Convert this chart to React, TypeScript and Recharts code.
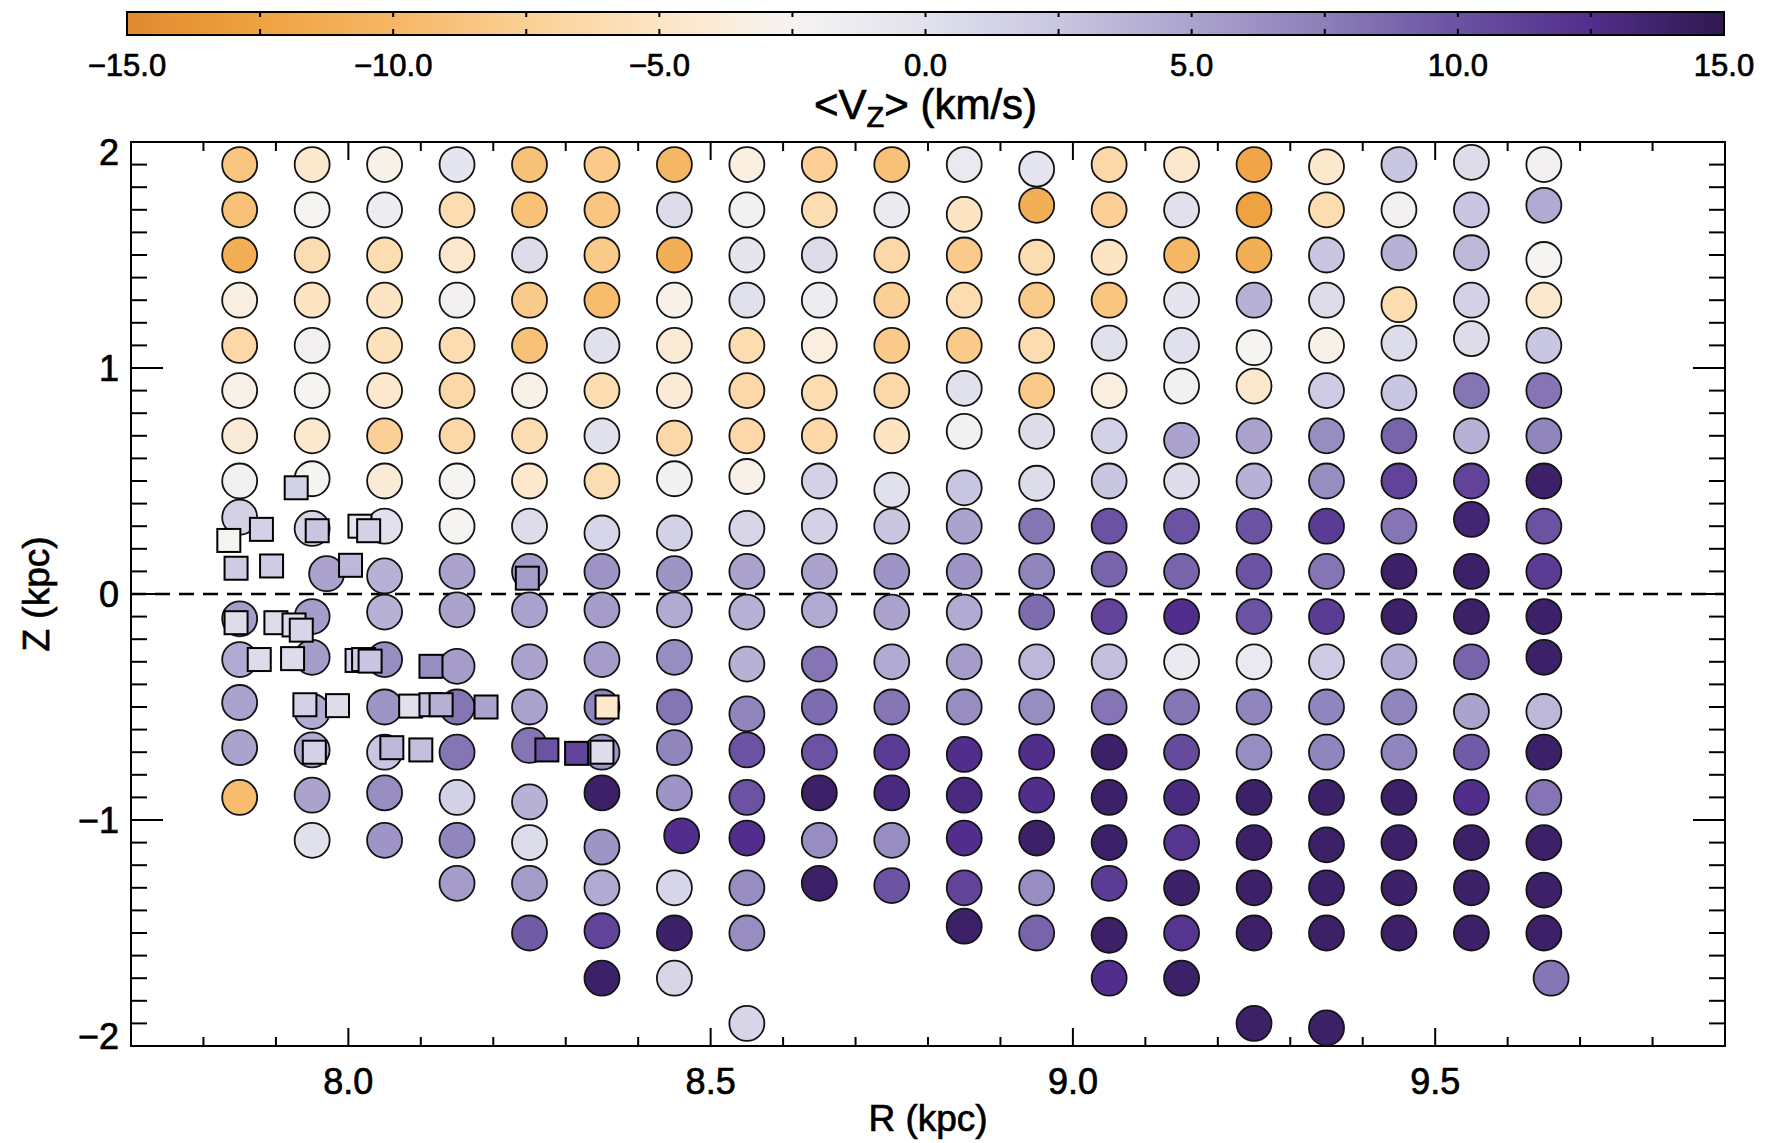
import React from "react";
import {
  ScatterChart,
  Scatter,
  ComposedChart,
  XAxis,
  YAxis,
  ReferenceLine,
  ReferenceArea,
  Label,
} from "recharts";

// colour scale for <Vz>
const colorStops: [number, string][] = [
  [-15, "#e0892e"],
  [-12.5, "#efa241"],
  [-10, "#f6b764"],
  [-7.5, "#fbcf95"],
  [-5, "#fde5c4"],
  [-2.5, "#f6f4f1"],
  [0, "#e1e1ee"],
  [2.5, "#c9c6e1"],
  [5, "#aba3ce"],
  [7.5, "#8b7eb9"],
  [10, "#6b52a2"],
  [12.5, "#512e8b"],
  [15, "#2f1850"],
];

const hexRgb = (h: string) => [
  parseInt(h.slice(1, 3), 16),
  parseInt(h.slice(3, 5), 16),
  parseInt(h.slice(5, 7), 16),
];

function vzColor(v: number) {
  const c = Math.max(-15, Math.min(15, v));
  for (let i = 0; i < colorStops.length - 1; i++) {
    const [v0, h0] = colorStops[i];
    const [v1, h1] = colorStops[i + 1];
    if (c >= v0 && c <= v1) {
      const t = (c - v0) / (v1 - v0);
      const a = hexRgb(h0);
      const b = hexRgb(h1);
      const m = a.map((x, k) => Math.round(x + (b[k] - x) * t));
      return `rgb(${m[0]},${m[1]},${m[2]})`;
    }
  }
  return colorStops[colorStops.length - 1][1];
}

// R of each column of bins (kpc)
const R_COLUMNS = [
  7.85, 7.95, 8.05, 8.15, 8.25, 8.35, 8.45, 8.55, 8.65, 8.75, 8.85, 8.95, 9.05,
  9.15, 9.25, 9.35, 9.45, 9.55, 9.65,
];

// each bin: [Z (kpc), <Vz> (km/s), optional R]
const col785 = [[1.9, -8.5], [1.7, -9], [1.5, -11], [1.3, -3.5], [1.1, -6.5], [0.9, -3], [0.7, -4], [0.5, -2], [0.34, 1.5], [-0.11, 5.5], [-0.29, 4.5], [-0.48, 5], [-0.68, 5], [-0.9, -9.5]];
const col795 = [[1.9, -4.5], [1.7, -2.5], [1.5, -6], [1.3, -5], [1.1, -2], [0.9, -2.5], [0.7, -4.5], [0.51, -2.5], [0.29, 1], [0.09, 5, 7.97], [-0.1, 5.5], [-0.28, 5.5], [-0.52, 4.5], [-0.69, 4.5], [-0.89, 5], [-1.09, 0]];
const col805 = [[1.9, -3], [1.7, -1.5], [1.5, -6], [1.3, -5], [1.1, -5.5], [0.9, -4.5], [0.7, -7.5], [0.5, -4], [0.3, 0], [0.08, 4], [-0.08, 4], [-0.29, 6.5], [-0.5, 6], [-0.7, 2.5], [-0.88, 6.5], [-1.09, 6]];
const col815 = [[1.9, -0.5], [1.7, -6], [1.5, -4.5], [1.3, -2], [1.1, -6], [0.9, -6.5], [0.7, -6.5], [0.5, -2.5], [0.3, -2.5], [0.1, 5], [-0.07, 5], [-0.32, 5.5], [-0.5, 8], [-0.7, 8], [-0.9, 1.5], [-1.09, 7], [-1.28, 5.5]];
const col825 = [[1.9, -9], [1.7, -9], [1.5, 0.5], [1.3, -8], [1.1, -9], [0.9, -3], [0.7, -6], [0.5, -4.5], [0.3, 0.5], [0.1, 5.5], [-0.07, 5], [-0.3, 5], [-0.5, 5], [-0.67, 8], [-0.92, 4], [-1.1, 0.5], [-1.28, 5.5], [-1.5, 9.5]];
const col835 = [[1.9, -8], [1.7, -8.5], [1.5, -8], [1.3, -9.5], [1.1, 0], [0.9, -6], [0.7, 0], [0.5, -6], [0.27, 1], [0.1, 6], [-0.07, 5.5], [-0.29, 5.5], [-0.5, 7], [-0.7, 6], [-0.88, 14], [-1.12, 6], [-1.3, 4.5], [-1.49, 11], [-1.7, 14]];
const col845 = [[1.9, -10], [1.7, 0.5], [1.5, -11], [1.3, -3], [1.1, -4], [0.9, -4], [0.69, -6.5], [0.51, -2], [0.27, 1.5], [0.09, 6], [-0.07, 4.5], [-0.28, 6.5], [-0.5, 8], [-0.68, 7], [-0.88, 6], [-1.07, 12.5, 8.46], [-1.3, 1], [-1.5, 14], [-1.7, 1]];
const col855 = [[1.9, -3.5], [1.7, -2], [1.5, -0.5], [1.3, 0], [1.1, -6], [0.9, -6.5], [0.7, -6.5], [0.52, -3], [0.29, 1], [0.1, 5], [-0.08, 4], [-0.31, 4], [-0.53, 7], [-0.69, 10], [-0.9, 10], [-1.08, 12.5], [-1.3, 6.5], [-1.5, 6.5], [-1.9, 1]];
const col865 = [[1.9, -7.5], [1.7, -6], [1.5, 0.5], [1.3, -1.5], [1.1, -3.5], [0.89, -6], [0.7, -6.5], [0.5, 1.5], [0.3, 1.5], [0.1, 5], [-0.07, 4.5], [-0.31, 8], [-0.5, 8.5], [-0.7, 10], [-0.88, 14], [-1.09, 6.5], [-1.28, 14]];
const col875 = [[1.9, -9], [1.7, -1], [1.5, -6.5], [1.3, -7.5], [1.1, -8], [0.9, -6.5], [0.7, -5], [0.46, 0], [0.3, 2.5], [0.1, 6], [-0.08, 5], [-0.3, 4.5], [-0.5, 8], [-0.7, 11.5], [-0.88, 13], [-1.09, 6.5], [-1.29, 10]];
const col885 = [[1.9, -1], [1.68, -5], [1.5, -8], [1.3, -6], [1.1, -8], [0.91, 0], [0.72, -2], [0.47, 2.5], [0.3, 5], [0.1, 6], [-0.08, 4.5], [-0.3, 5.5], [-0.5, 6.5], [-0.71, 12.5], [-0.89, 13], [-1.08, 12.5], [-1.3, 11], [-1.47, 14]];
const col895 = [[1.88, -0.5], [1.72, -11], [1.49, -6], [1.3, -8], [1.1, -6], [0.9, -8], [0.72, 0.5], [0.49, 0.5], [0.3, 8], [0.1, 7], [-0.08, 8.5], [-0.3, 3.5], [-0.5, 6.5], [-0.7, 12.5], [-0.89, 12.5], [-1.08, 14], [-1.3, 6.5], [-1.5, 9]];
const col905 = [[1.9, -6.5], [1.7, -7.5], [1.49, -5], [1.3, -8.5], [1.11, 0], [0.9, -3.5], [0.7, 1.5], [0.5, 2.5], [0.3, 10], [0.11, 9], [-0.1, 11], [-0.3, 3], [-0.5, 8], [-0.7, 14], [-0.9, 14], [-1.1, 14], [-1.28, 11.5], [-1.51, 14], [-1.7, 12.5]];
const col915 = [[1.9, -4.5], [1.7, 0], [1.5, -10], [1.3, -0.5], [1.1, 0], [0.92, -2], [0.68, 5], [0.5, 0.5], [0.3, 10], [0.1, 9], [-0.1, 12.5], [-0.3, -1], [-0.5, 8], [-0.7, 10.5], [-0.9, 13], [-1.1, 12], [-1.3, 14], [-1.5, 12], [-1.7, 14]];
const col925 = [[1.9, -12], [1.7, -12.5], [1.5, -11], [1.3, 4], [1.09, -2.5], [0.92, -4.5], [0.7, 5], [0.5, 4], [0.3, 10], [0.1, 10], [-0.1, 10], [-0.3, -1], [-0.5, 7], [-0.7, 6.5], [-0.9, 14], [-1.1, 14], [-1.3, 14], [-1.5, 14], [-1.9, 14]];
const col935 = [[1.89, -4.5], [1.7, -6], [1.5, 2.5], [1.3, 0.5], [1.1, -3], [0.9, 2], [0.7, 6.5], [0.5, 6.5], [0.3, 11.5], [0.1, 8], [-0.1, 11.5], [-0.3, 2], [-0.5, 7], [-0.7, 7], [-0.9, 14], [-1.11, 14], [-1.3, 14], [-1.5, 14], [-1.92, 14]];
const col945 = [[1.9, 2.5], [1.7, -2], [1.51, 4], [1.28, -6], [1.11, 0.5], [0.89, 2.5], [0.7, 9], [0.5, 11], [0.3, 8], [0.1, 14], [-0.1, 14], [-0.3, 4.5], [-0.5, 7], [-0.7, 7], [-0.9, 14], [-1.1, 14], [-1.3, 14], [-1.5, 14]];
const col955 = [[1.91, 0.5], [1.7, 2.5], [1.51, 3.5], [1.3, 1.5], [1.13, 0.5], [0.9, 8], [0.7, 4], [0.5, 11], [0.33, 13.5], [0.1, 14], [-0.1, 14], [-0.3, 9], [-0.52, 5], [-0.7, 9.5], [-0.9, 12.5], [-1.1, 14], [-1.3, 14], [-1.5, 14]];
const col965 = [[1.9, -2], [1.72, 4.5], [1.48, -2.5], [1.3, -4.5], [1.1, 2.5], [0.9, 8], [0.7, 7], [0.5, 14], [0.3, 10], [0.1, 11.5], [-0.1, 14], [-0.28, 14], [-0.52, 3.5], [-0.7, 14], [-0.9, 8], [-1.1, 14], [-1.31, 14], [-1.5, 14], [-1.7, 8, 9.66]];

const COLUMNS = [
  col785, col795, col805, col815, col825, col835, col845, col855, col865, col875,
  col885, col895, col905, col915, col925, col935, col945, col955, col965,
];

// square markers
const squareR = [7.928, 7.835, 7.88, 7.957, 8.016, 8.028, 7.845, 7.894, 8.003, 8.247, 7.845, 7.9, 7.925, 7.935, 7.877, 7.923, 8.012, 8.021, 8.03, 8.114, 7.94, 7.985, 8.086, 8.114, 8.128, 8.19, 8.357, 7.953, 8.06, 8.1, 8.274, 8.315, 8.35];
const squareZ = [0.47, 0.237, 0.286, 0.28, 0.3, 0.28, 0.114, 0.124, 0.127, 0.07, -0.127, -0.127, -0.137, -0.16, -0.29, -0.286, -0.294, -0.29, -0.297, -0.32, -0.49, -0.494, -0.496, -0.49, -0.49, -0.5, -0.5, -0.7, -0.68, -0.69, -0.69, -0.705, -0.7];
const squareV = [1.5, -2.5, 1.5, 2.5, -0.5, 1.5, 2, 2, 3.5, 5.5, 0.5, 0.5, 0.5, 1, 0.5, 0.5, 1.5, 2, 2.5, 6.5, 1.5, 0.5, 0, 3, 4, 5, -4.5, 1.5, 3.5, 3, 10, 11, 0.5];

const X_TICKS = [7.7, 7.8, 7.9, 8.0, 8.1, 8.2, 8.3, 8.4, 8.5, 8.6, 8.7, 8.8, 8.9, 9.0, 9.1, 9.2, 9.3, 9.4, 9.5, 9.6, 9.7, 9.8, 9.9];
const Y_TICKS = [-2, -1.9, -1.8, -1.7, -1.6, -1.5, -1.4, -1.3, -1.2, -1.1, -1, -0.9, -0.8, -0.7, -0.6, -0.5, -0.4, -0.3, -0.2, -0.1, 0, 0.1, 0.2, 0.3, 0.4, 0.5, 0.6, 0.7, 0.8, 0.9, 1, 1.1, 1.2, 1.3, 1.4, 1.5, 1.6, 1.7, 1.8, 1.9, 2];
const CBAR_TICKS = [-15, -12.5, -10, -7.5, -5, -2.5, 0, 2.5, 5, 7.5, 10, 12.5, 15];

const circles = COLUMNS.flatMap((col, i) =>
  col.map((p) => ({ r: p[2] ?? R_COLUMNS[i], z: p[0], v: p[1] }))
);
const squares = squareR.map((r, i) => ({ r, z: squareZ[i], v: squareV[i] }));

const FONT = "'Liberation Sans', Arial, Helvetica, sans-serif";
const W = 1773;
const H = 1143;
const PLOT = { left: 131, right: 1725, top: 142, bottom: 1046 };
const CB = { left: 127, right: 1724, top: 12, bottom: 35 };
// the original text is a little heavier than a regular face
const TXT = { fontFamily: FONT, fill: "#000", stroke: "#000", strokeWidth: 0.7 };

const minus = (s: string) => s.replace("-", "\u2212");

function XTick(props: any) {
  const { x, payload } = props;
  const v = payload.value;
  const major = Math.abs(v * 2 - Math.round(v * 2)) < 1e-6;
  const len = major ? 18 : 9;
  return (
    <g>
      <line x1={x} x2={x} y1={PLOT.bottom} y2={PLOT.bottom - len} stroke="#000" strokeWidth={2} />
      <line x1={x} x2={x} y1={PLOT.top} y2={PLOT.top + len} stroke="#000" strokeWidth={2} />
      {major && (
        <text x={x} y={PLOT.bottom + 48} textAnchor="middle" fontSize={36} {...TXT}>
          {v.toFixed(1)}
        </text>
      )}
    </g>
  );
}

function YTick(props: any) {
  const { y, payload } = props;
  const v = payload.value;
  const major = Math.abs(v - Math.round(v)) < 1e-6;
  const len = major ? 32 : 16;
  const shift = v >= 2 ? 10 : v <= -2 ? -10 : 0;
  return (
    <g>
      <line x1={PLOT.left} x2={PLOT.left + len} y1={y} y2={y} stroke="#000" strokeWidth={2} />
      <line x1={PLOT.right} x2={PLOT.right - len} y1={y} y2={y} stroke="#000" strokeWidth={2} />
      {major && (
        <text x={PLOT.left - 12} y={y + shift} dy="0.36em" textAnchor="end" fontSize={36} {...TXT}>
          {minus(String(Math.round(v)))}
        </text>
      )}
    </g>
  );
}

function CbTick(props: any) {
  const { x, payload } = props;
  const v = payload.value;
  const end = Math.abs(v) >= 15;
  const labelled = Math.abs(v / 5 - Math.round(v / 5)) < 1e-6;
  return (
    <g>
      {!end && (
        <>
          <line x1={x} x2={x} y1={CB.top} y2={CB.top + 5} stroke="#000" strokeWidth={2} />
          <line x1={x} x2={x} y1={CB.bottom} y2={CB.bottom - 6} stroke="#000" strokeWidth={2} />
        </>
      )}
      {labelled && (
        <text x={x} y={76} textAnchor="middle" fontSize={31} {...TXT}>
          {minus(v.toFixed(1))}
        </text>
      )}
    </g>
  );
}

const circleShape = (props: any) => (
  <circle
    cx={props.cx}
    cy={props.cy}
    r={17.5}
    fill={vzColor(props.payload.v)}
    stroke="#141414"
    strokeWidth={1.8}
  />
);

const squareShape = (props: any) => (
  <rect
    x={props.cx - 11.5}
    y={props.cy - 11.5}
    width={23}
    height={23}
    fill={vzColor(props.payload.v)}
    stroke="#000"
    strokeWidth={2}
  />
);

export default function App() {
  return (
    <div style={{ position: "absolute", left: 0, top: 0, width: W, height: H, background: "#fff" }}>
      <div style={{ position: "absolute", left: 0, top: 0 }}>
        <ScatterChart
          width={W}
          height={H}
          margin={{ top: PLOT.top, right: W - PLOT.right, bottom: 0, left: 0 }}
        >
          <XAxis
            type="number"
            dataKey="r"
            domain={[7.7, 9.9]}
            ticks={X_TICKS}
            interval={0}
            allowDataOverflow
            height={H - PLOT.bottom}
            axisLine={false}
            tickLine={false}
            tickSize={0}
            tickMargin={0}
            tick={XTick}
          >
            <Label
              content={() => (
                <text x={(PLOT.left + PLOT.right) / 2} y={1131} textAnchor="middle" fontSize={37} {...TXT}>
                  R (kpc)
                </text>
              )}
            />
          </XAxis>
          <YAxis
            type="number"
            dataKey="z"
            domain={[-2, 2]}
            ticks={Y_TICKS}
            interval={0}
            allowDataOverflow
            width={PLOT.left}
            axisLine={false}
            tickLine={false}
            tickSize={0}
            tickMargin={0}
            tick={YTick}
          >
            <Label
              content={() => (
                <text
                  x={36}
                  y={(PLOT.top + PLOT.bottom) / 2}
                  dy="0.36em"
                  transform={`rotate(-90, 36, ${(PLOT.top + PLOT.bottom) / 2})`}
                  textAnchor="middle"
                  fontSize={37}
                  {...TXT}
                >
                  Z (kpc)
                </text>
              )}
            />
          </YAxis>
          <ReferenceLine y={0} stroke="#000" strokeWidth={2.5} strokeDasharray="15 9" />
          <ReferenceArea x1={7.7} x2={9.9} y1={-2} y2={2} fill="none" stroke="#000" strokeWidth={2} />
          <Scatter data={circles} shape={circleShape} isAnimationActive={false} />
          <Scatter data={squares} shape={squareShape} isAnimationActive={false} />
        </ScatterChart>
      </div>
      <div style={{ position: "absolute", left: 0, top: 0 }}>
        <ComposedChart
          width={W}
          height={140}
          data={[{ v: -15, y: 0 }, { v: 15, y: 1 }]}
          margin={{ top: CB.top, right: W - CB.right, bottom: 0, left: CB.left }}
        >
          <defs>
            <linearGradient id="vzGrad" x1="0" y1="0" x2="1" y2="0">
              {colorStops.map(([v, c]) => (
                <stop key={v} offset={`${((v + 15) / 30) * 100}%`} stopColor={c} />
              ))}
            </linearGradient>
          </defs>
          <XAxis
            type="number"
            dataKey="v"
            domain={[-15, 15]}
            ticks={CBAR_TICKS}
            interval={0}
            height={140 - CB.bottom}
            axisLine={false}
            tickLine={false}
            tickSize={0}
            tickMargin={0}
            tick={CbTick}
          >
            <Label
              content={() => (
                <text x={(CB.left + CB.right) / 2} y={119} textAnchor="middle" fontSize={42} {...TXT}>
                  {"<V"}
                  <tspan fontSize={29} dy={8}>Z</tspan>
                  <tspan dy={-8}>{"> (km/s)"}</tspan>
                </text>
              )}
            />
          </XAxis>
          <YAxis type="number" dataKey="y" domain={[0, 1]} hide />
          <ReferenceArea x1={-15} x2={15} y1={0} y2={1} fill="url(#vzGrad)" fillOpacity={1} stroke="#000" strokeWidth={2} />
        </ComposedChart>
      </div>
    </div>
  );
}
